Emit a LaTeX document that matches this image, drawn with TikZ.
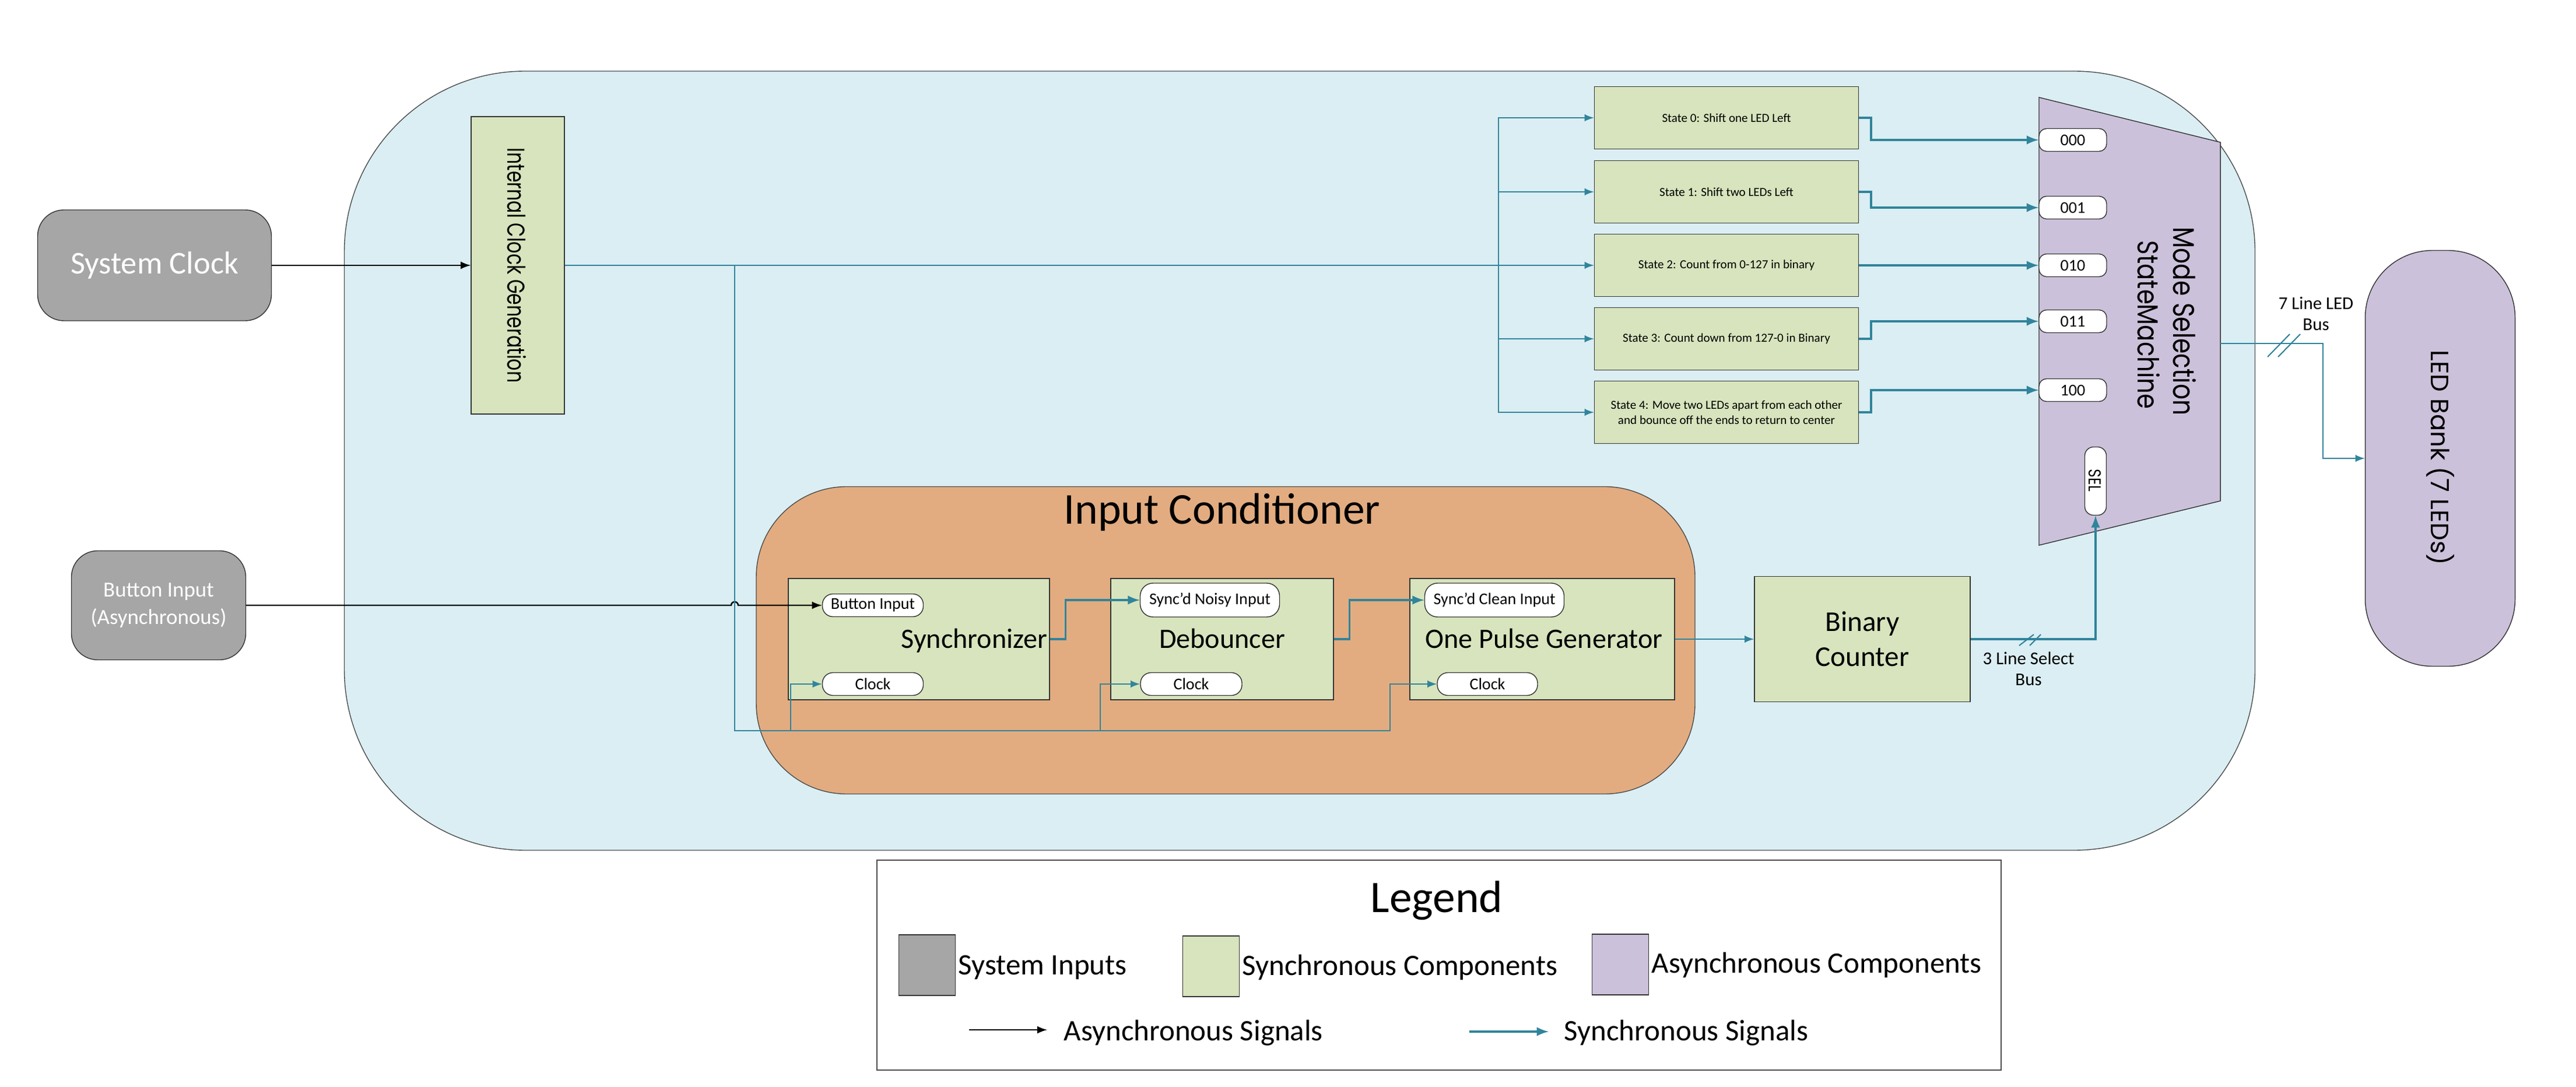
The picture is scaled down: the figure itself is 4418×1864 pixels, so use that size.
\documentclass[tikz,border=0pt]{standalone}
\usepackage{fontspec}
\setmainfont{Carlito}
\newfontfamily\gothic{Poppins}
\usepackage{graphicx}
\usepackage{tikz}

\definecolor{bgblue}{HTML}{DAEEF3}
\definecolor{condorange}{HTML}{E2AC80}
\definecolor{syncgreen}{HTML}{D7E4BD}
\definecolor{asyncpurple}{HTML}{CCC1DA}
\definecolor{inputgray}{HTML}{A6A6A6}
\definecolor{sigteal}{HTML}{31849B}

\begin{document}
\begin{tikzpicture}[x=0.1mm, y=-0.1mm, align=center, inner sep=0pt,
        comp/.style={draw=black!80, fill=syncgreen, line width=0.4pt},
        input/.style={draw=black!80, fill=inputgray, text=white, rounded corners=4.5mm, line width=0.4pt},
        async/.style={draw=black!80, fill=asyncpurple, line width=0.4pt},
        port/.style={draw=black!80, fill=white, rounded corners=1.3mm, line width=0.4pt, font=\fontsize{8}{9}\selectfont},
        sig/.style={draw=sigteal, line width=0.6pt},
        bus/.style={draw=sigteal, line width=1pt},
        asig/.style={draw=black, line width=0.7pt}]
        \useasboundingbox (0,0) rectangle (4418,1864);
        \node[draw=black!70, fill=bgblue, rounded corners=31mm, minimum width=327.7mm, minimum height=133.6mm](System) at (2229,790) {};
        \node[input, minimum width=40.1mm, minimum height=19mm, font=\fontsize{15.5}{18}\selectfont](System Clock) at (265,455) {System Clock};
        \node[input, minimum width=29.9mm, minimum height=18.7mm, font=\fontsize{10.5}{13.4}\selectfont](Button Input) at (272,1038) {Button Input\\(Asynchronous)};
        \node[comp, minimum width=16mm, minimum height=51mm](Clock Generation) at (888,455) {};
        \node[rotate=-90](Clock Generation text) at (886,455) {\resizebox{40.3mm}{3.2mm}{\gothic Internal Clock Generation}};

        \node[draw=black!70, fill=condorange, rounded corners=15.5mm, minimum width=161mm, minimum height=52.7mm](Input Conditioner) at (2102,1098) {};
        \node[anchor=base, font=\fontsize{21.5}{24}\selectfont](Conditioner title) at (2096,899) {Input Conditioner};
        \node[comp, minimum width=44.8mm, minimum height=20.8mm](Synchronizer) at (1576,1096) {};
        \node[comp, minimum width=38.2mm, minimum height=20.8mm](Debouncer) at (2096,1096) {};
        \node[comp, minimum width=45.4mm, minimum height=20.8mm](One Pulse) at (2645,1096) {};
        \node[anchor=base east, font=\fontsize{13.7}{16}\selectfont](Synchronizer text) at (1797,1111) {Synchronizer};
        \node[anchor=base, font=\fontsize{13.7}{16}\selectfont](Debouncer text) at (2096,1111) {Debouncer};
        \node[anchor=base, font=\fontsize{13.7}{16}\selectfont](One Pulse text) at (2648,1111) {One Pulse Generator};
        \node[port, minimum width=17.3mm, minimum height=3.9mm, rounded corners=1.8mm](Sync In) at (1497,1038) {Button Input};
        \node[port, minimum width=17.3mm, minimum height=3.9mm, rounded corners=1.8mm](Sync Clock) at (1497,1173) {Clock};
        \node[port, minimum width=23.9mm, minimum height=5.8mm, rounded corners=2.2mm](Debounce In) at (2075,1029) {Sync'd Noisy Input};
        \node[port, minimum width=17.4mm, minimum height=3.9mm, rounded corners=1.8mm](Debounce Clock) at (2043,1173) {Clock};
        \node[port, minimum width=23.9mm, minimum height=5.8mm, rounded corners=2.2mm](Pulse In) at (2563,1029) {Sync'd Clean Input};
        \node[port, minimum width=17.2mm, minimum height=3.9mm, rounded corners=1.8mm](Pulse Clock) at (2551,1173) {Clock};
        \node[comp, minimum width=37mm, minimum height=21.5mm, font=\fontsize{14}{17}\selectfont](Binary Counter) at (3194,1096) {Binary\\Counter};

        \node[comp, minimum width=45.3mm, minimum height=10.7mm, font=\fontsize{6}{7.4}\selectfont](State0) at (2961,202) {State 0: Shift one LED Left};
        \node[comp, minimum width=45.3mm, minimum height=10.7mm, font=\fontsize{6}{7.4}\selectfont](State1) at (2961,329) {State 1: Shift two LEDs Left};
        \node[comp, minimum width=45.3mm, minimum height=10.7mm, font=\fontsize{6}{7.4}\selectfont](State2) at (2961,455) {State 2: Count from 0-127 in binary};
        \node[comp, minimum width=45.3mm, minimum height=10.7mm, font=\fontsize{6}{7.4}\selectfont](State3) at (2961,581) {State 3: Count down from 127-0 in Binary};
        \node[comp, minimum width=45.3mm, minimum height=10.7mm, font=\fontsize{6}{7.4}\selectfont](State4) at (2961,707) {State 4: Move two LEDs apart from each other\\and bounce off the ends to return to center};

        \draw[async] (3497,167) -- (3808,244) -- (3808,859) -- (3497,935) -- cycle;
        \coordinate (Mux out) at (3808,589);
        \node[rotate=-90](Mode text) at (3747,551) {\resizebox{32.3mm}{3.9mm}{\gothic Mode Selection}};
        \node[rotate=-90](Machine text) at (3685,557) {\resizebox{28.8mm}{3.8mm}{\gothic StateMachine}};
        \node[port, minimum width=11.6mm, minimum height=3.9mm](Sel000) at (3555,240) {000};
        \node[port, minimum width=11.6mm, minimum height=3.9mm](Sel001) at (3555,356) {001};
        \node[port, minimum width=11.6mm, minimum height=3.9mm](Sel010) at (3555,455) {010};
        \node[port, minimum width=11.6mm, minimum height=3.9mm](Sel011) at (3555,551) {011};
        \node[port, minimum width=11.6mm, minimum height=3.9mm](Sel100) at (3555,669) {100};
        \node[port, minimum width=3.7mm, minimum height=11.7mm, rounded corners=1.5mm](Sel) at (3594,825) {};
        \node[rotate=-90](Sel text) at (3593,824) {\resizebox{3.8mm}{2.1mm}{\gothic SEL}};

        \node[async, rounded corners=11.5mm, minimum width=25.7mm, minimum height=71.3mm](LED Bank) at (4185,786) {};
        \node[rotate=-90](LED Bank text) at (4185,785) {\resizebox{36.9mm}{4mm}{\gothic LED Bank (7 LEDs)}};
        \node[font=\fontsize{8.8}{10.3}\selectfont](LED Bus label) at (3972,538) {7 Line LED\\Bus};
        \node[font=\fontsize{8.8}{10.3}\selectfont](Select Bus label) at (3479,1147) {3 Line Select\\Bus};

        \coordinate (Clock split) at (1260,455);
        \coordinate (State bus) at (2570,455);
        \coordinate (Rail1) at (1356,1253);
        \coordinate (Rail2) at (1887,1253);

        \draw[asig,-latex] (System Clock) -- (Clock Generation);
        \draw[asig,-latex] (Button Input.east) -- (1254,1038) arc[start angle=180, end angle=0, radius=0.6mm] -- (Sync In.west);
        \draw[sig,-latex] (Clock Generation.east) -- (State2.west);
        \draw[sig,-latex] (State bus) |- (State0.west);
        \draw[sig,-latex] (State bus) |- (State1.west);
        \draw[sig,-latex] (State bus) |- (State3.west);
        \draw[sig,-latex] (State bus) |- (State4.west);
        \draw[sig,-latex] (Clock split) |- (2384,1253) |- (Pulse Clock.west);
        \draw[sig,-latex] (Rail1) |- (Sync Clock.west);
        \draw[sig,-latex] (Rail2) |- (Debounce Clock.west);
        \draw[bus,-latex] (Synchronizer.east) -- ++(27,0) |- (Debounce In.west);
        \draw[bus,-latex] (Debouncer.east) -- ++(27,0) |- (Pulse In.west);
        \draw[sig,-latex] (One Pulse) -- (Binary Counter);
        \draw[bus,-latex] (Binary Counter.east) -| (Sel.south);
        \draw[bus,-latex] (State0.east) -- ++(21,0) |- (Sel000.west);
        \draw[bus,-latex] (State1.east) -- ++(21,0) |- (Sel001.west);
        \draw[bus,-latex] (State2) -- (Sel010);
        \draw[bus,-latex] (State3.east) -- ++(21,0) |- (Sel011.west);
        \draw[bus,-latex] (State4.east) -- ++(21,0) |- (Sel100.west);
        \draw[sig,-latex] (Mux out) -- ++(176,0) |- (LED Bank.west);
        \draw[sig] (3889,612) -- (3927,573) (3907,612) -- (3945,573);
        \draw[sig] (3463,1107) -- (3488,1088) (3481,1107) -- (3500,1088);

        \node[draw=black!70, fill=white, minimum width=192.8mm, minimum height=36mm](Legend) at (2468,1655) {};
        \node[anchor=base, font=\fontsize{22}{26}\selectfont](Legend title) at (2464,1564) {Legend};
        \node[input, rounded corners=0pt, minimum width=9.7mm, minimum height=10.4mm](Legend inputs) at (1590,1655) {};
        \node[comp, minimum width=9.7mm, minimum height=10.4mm](Legend sync) at (2077,1657) {};
        \node[async, minimum width=9.7mm, minimum height=10.4mm](Legend async) at (2779,1654) {};
        \node[anchor=base west, font=\fontsize{14.5}{17}\selectfont](Legend inputs text) at (1643,1671) {System Inputs};
        \node[anchor=base west, font=\fontsize{14.5}{17}\selectfont](Legend sync text) at (2130,1672) {Synchronous Components};
        \node[anchor=base west, font=\fontsize{14.5}{17}\selectfont](Legend async text) at (2832,1668) {Asynchronous Components};
        \draw[asig,-latex] (1662,1766) -- (1796,1766);
        \draw[sig,line width=1pt,-latex] (2520,1769) -- (2656,1769);
        \node[anchor=base west, font=\fontsize{14.5}{17}\selectfont](Async signals text) at (1824,1784) {Asynchronous Signals};
        \node[anchor=base west, font=\fontsize{14.5}{17}\selectfont](Sync signals text) at (2682,1784) {Synchronous Signals};
    \end{tikzpicture}
\end{document}
